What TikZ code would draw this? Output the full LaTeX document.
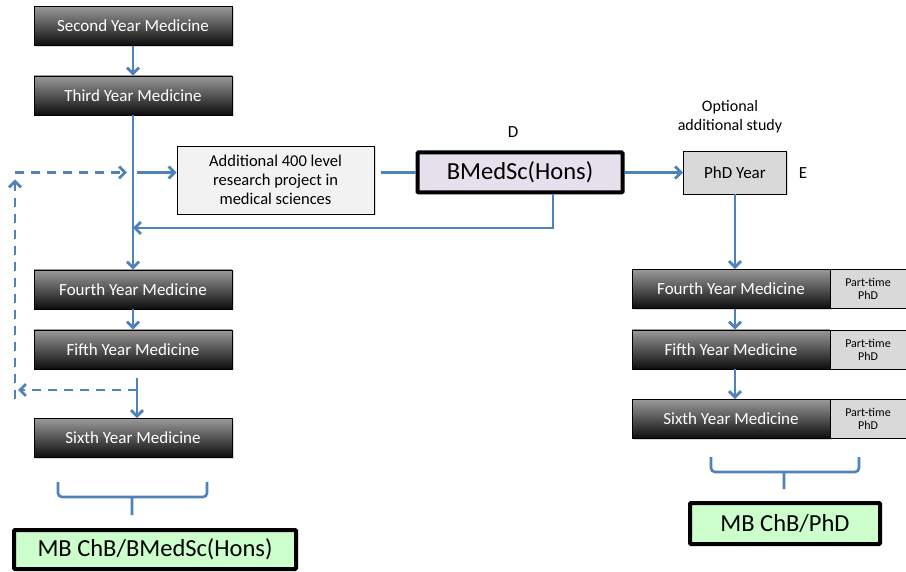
\documentclass[tikz,border=0pt]{standalone}
\usepackage{fontspec}
\setmainfont{Carlito}
\usetikzlibrary{arrows.meta,shadows}
\definecolor{linkblue}{HTML}{4F81BD}
\definecolor{honsfill}{HTML}{E5E0EC}
\definecolor{degfill}{HTML}{CCFFCC}
\definecolor{phdfill}{HTML}{D9D9D9}
\definecolor{extrafill}{HTML}{F2F2F2}
\tikzset{
  yearbox/.style={draw=black,line width=0.9pt,top color=black!40,bottom color=black!95,
    text=white,minimum width=198pt,minimum height=39pt,font=\fontsize{17}{19}\selectfont,
    drop shadow={shadow xshift=1.5pt,shadow yshift=-1.5pt,opacity=0.3}},
  parttime/.style={draw=black,line width=0.7pt,fill=phdfill,minimum width=76pt,minimum height=39pt,
    align=center,font=\fontsize{12}{13}\selectfont},
  plainbox/.style={draw=black,line width=0.9pt,align=center,
    drop shadow={shadow xshift=1.5pt,shadow yshift=-1.5pt,opacity=0.3}},
  degbox/.style={draw=black,line width=4pt,rounded corners=1pt,fill=degfill,font=\fontsize{24.5}{28}\selectfont},
  link/.style={draw=linkblue,line width=2.8pt,-{Straight Barb[length=6pt,width=12pt]}},
  dlink/.style={link,dash pattern=on 9pt off 7pt},
  bracket/.style={draw=linkblue,line width=2.6pt,rounded corners=4pt},
}
\begin{document}
\begin{tikzpicture}[x=1pt,y=-1pt]
\useasboundingbox (0,0) rectangle (906,572);
% left column
\node[yearbox] (yr2) at (133,26) {Second Year Medicine};
\node[yearbox] (yr3) at (133,95.5) {Third Year Medicine};
\node[yearbox] (yr4) at (133,289.5) {Fourth Year Medicine};
\node[yearbox] (yr5) at (133,349.5) {Fifth Year Medicine};
\node[yearbox] (yr6) at (133,438) {Sixth Year Medicine};
\node[degbox,minimum width=282pt,minimum height=39pt] (degA) at (155,549.5) {MB ChB/BMedSc(Hons)};
% research year
\node[plainbox,fill=extrafill,minimum width=197pt,minimum height=68pt,font=\fontsize{16.5}{19}\selectfont] (extra) at (275.5,180)
  {Additional 400 level\\research project in\\medical sciences};
\node[draw=black,line width=4pt,rounded corners=1pt,fill=honsfill,minimum width=205pt,minimum height=40pt,
  font=\fontsize{24.5}{28}\selectfont] (hons) at (520,172.5) {BMedSc(Hons)};
\node[font=\fontsize{17}{19}\selectfont] (lblD) at (513,132) {D};
% right column
\node[align=center,font=\fontsize{16}{19}\selectfont] (opt) at (730,117) {Optional\\additional study};
\node[plainbox,fill=phdfill,minimum width=103pt,minimum height=43pt,font=\fontsize{17}{19}\selectfont] (phd) at (735,172.5) {PhD Year};
\node[font=\fontsize{17}{19}\selectfont] (lblE) at (803,173) {E};
\node[yearbox] (ryr4) at (731,289) {Fourth Year Medicine};
\node[yearbox] (ryr5) at (731,349.5) {Fifth Year Medicine};
\node[yearbox] (ryr6) at (731,419) {Sixth Year Medicine};
\node[parttime] (pt4) at (868,289) {Part-time\\PhD};
\node[parttime] (pt5) at (868,349.5) {Part-time\\PhD};
\node[parttime] (pt6) at (868,419) {Part-time\\PhD};
\node[degbox,minimum width=190pt,minimum height=41pt] (degB) at (785,523.5) {MB ChB/PhD};
% connectors
\coordinate (back) at (133,228);
\coordinate (fork) at (137,390);
\coordinate (farL) at (15,390);
\coordinate (farT) at (15,172.5);
\draw[link] (yr2) -- (yr3);
\draw[link] (yr3) -- (yr4);
\draw[link] (yr4) -- (yr5);
\draw[link] ([xshift=4pt]yr3.south |- hons.west) -- (extra.west |- hons.west);
\draw[draw=linkblue,line width=2.8pt] ([xshift=7pt]extra.east |- hons.west) -- (hons.west);
\draw[link] ([xshift=33pt]hons.south) |- (back);
\draw[link] ([yshift=12pt]fork) -- (fork |- yr6.north);
\draw[dlink] (fork) -- ([xshift=3pt]farL);
\draw[dlink] ([yshift=-9pt]farL) -- ([yshift=-7pt]farT);
\draw[dlink] (farT) -- ([xshift=-6pt]yr3.south |- hons.west);
\draw[link] (hons) -- (phd);
\draw[link] (phd.south) -- (phd.south |- ryr4.north);
\draw[link] (phd.south |- ryr4.south) -- (phd.south |- ryr5.north);
\draw[link] (phd.south |- ryr5.south) -- (phd.south |- ryr6.north);
% brackets
\draw[bracket] (58,482) -- (58,497) -- (207,497) -- (207,482) (132,497) -- (132,515);
\draw[bracket] (711,457) -- (711,472) -- (859,472) -- (859,457) (784,472) -- (784,489);
\end{tikzpicture}
\end{document}
